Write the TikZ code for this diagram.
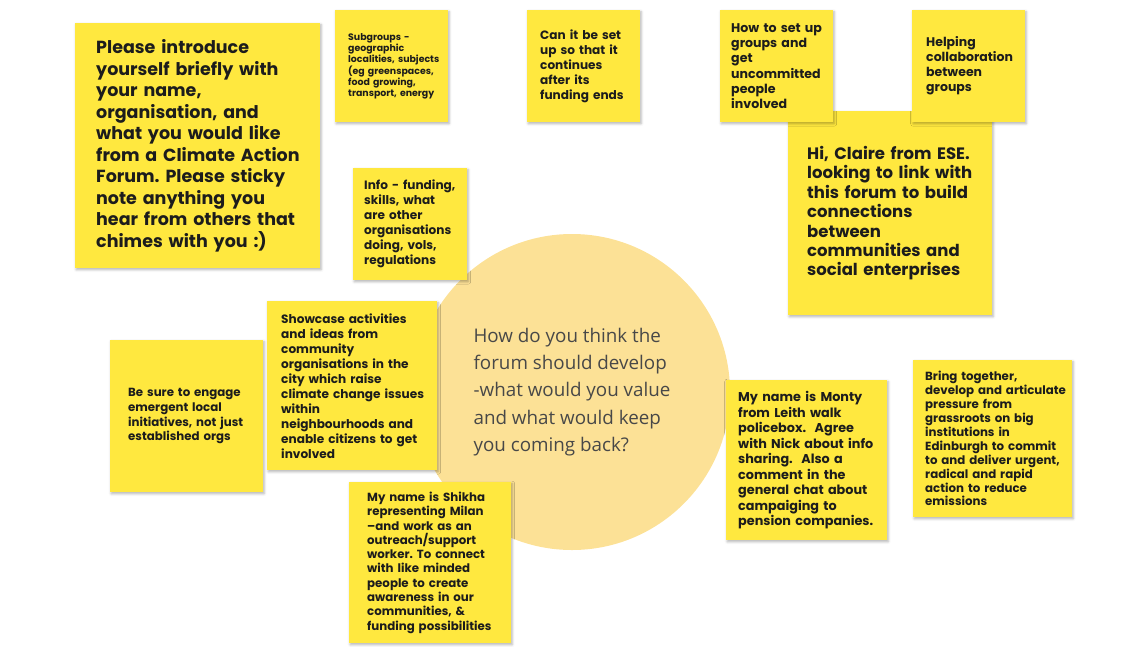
\documentclass[tikz,border=0pt]{standalone}
\usepackage{fontspec}
\setmainfont{Poppins}
\newfontfamily\questionfont{Open Sans}
\usepackage{tikz}
\usetikzlibrary{shadows.blur, positioning}

\definecolor{stickyyellow}{HTML}{FFE83F}
\definecolor{bubble}{HTML}{FCE196}
\definecolor{ink}{HTML}{1C1C1C}
\definecolor{questiongrey}{HTML}{484848}

\frenchspacing
\tikzset{
  note/.style={fill=stickyyellow, anchor=north west, align=left, text=ink,
    inner ysep=0pt,
    blur shadow={shadow xshift=1pt, shadow yshift=-1.5pt, shadow blur radius=2.5pt, shadow opacity=30},
    execute at begin node={\rightskip=0pt plus 1fil minus 1000pt}},
  bubble/.style={circle, fill=bubble, inner sep=0pt, align=left, text=questiongrey}
}

\begin{document}
\begin{tikzpicture}[x=1pt, y=-1pt]
\useasboundingbox (0,0) rectangle (1137,646);

% Question in the middle
\node[bubble, minimum size=316pt, font=\questionfont\fontsize{18.8}{27.3}\selectfont] (question) at (572,392)
  {How do you think the\\forum should develop\\-what would you value\\and what would keep\\you coming back?};

% Top row
\node[note, minimum height=245pt, text width=203pt, inner xsep=21pt, font=\bfseries\fontsize{17.5}{21.5}\selectfont] (intro) at (75,23)
  {Please introduce\\yourself briefly with\\your name,\\organisation, and\\what you would like\\from a Climate Action\\Forum. Please sticky\\note anything you\\hear from others that\\chimes with you :)};
\node[note, minimum height=112pt, text width=87pt, inner xsep=13pt, font=\bfseries\fontsize{9.4}{10.8}\selectfont] (subgroups) at (335,10)
  {Subgroups -\\geographic\\localities, subjects\\(eg greenspaces,\\food growing,\\transport, energy};
\node[note, minimum height=112pt, text width=87pt, inner xsep=13pt, font=\bfseries\fontsize{12.1}{15}\selectfont] (funding) at (527,10)
  {Can it be set\\up so that it\\continues\\after its\\funding ends};
\node[note, minimum height=204pt, text width=166pt, inner xsep=19pt, font=\bfseries\fontsize{16.5}{19.4}\selectfont] (claire) at (788,111)
  {Hi, Claire from ESE.\\looking to link with\\this forum to build\\connections\\between\\communities and\\social enterprises};
\node[note, minimum height=112pt, text width=91pt, inner xsep=11pt, font=\bfseries\fontsize{12.6}{15.2}\selectfont] (setup) at (720,10)
  {How to set up\\groups and\\get\\uncommitted\\people\\involved};
\node[note, minimum height=112pt, text width=85pt, inner xsep=14pt, font=\bfseries\fontsize{12.5}{15}\selectfont] (collab) at (912,10)
  {Helping\\collaboration\\between\\groups};

% Left side
\node[note, minimum height=112pt, text width=92pt, inner xsep=11pt, font=\bfseries\fontsize{12.1}{15}\selectfont] (info) at (353,168)
  {Info - funding,\\skills, what\\are other\\organisations\\doing, vols,\\regulations};
\node[note, minimum height=169pt, text width=142pt, inner xsep=14pt, font=\bfseries\fontsize{12.1}{15}\selectfont] (showcase) at (267,301)
  {Showcase activities\\and ideas from\\community\\organisations in the\\city which raise\\climate change issues\\within\\neighbourhoods and\\enable citizens to get\\involved};
\node[note, minimum height=152pt, text width=117pt, inner xsep=18pt, font=\bfseries\fontsize{11.8}{14.7}\selectfont] (emergent) at (110,340)
  {Be sure to engage\\emergent local\\initiatives, not just\\established orgs};
\node[note, minimum height=161pt, text width=126pt, inner xsep=18pt, font=\bfseries\fontsize{11.8}{14.3}\selectfont] (shikha) at (349,482)
  {My name is Shikha\\representing Milan\\--and work as an\\outreach/support\\worker. To connect\\with like minded\\people to create\\awareness in our\\communities, \&\\funding possibilities};

% Right side
\node[note, minimum height=160pt, text width=137pt, inner xsep=12pt, font=\bfseries\fontsize{12.8}{15.5}\selectfont] (monty) at (726,380)
  {My name is Monty\\from Leith walk\\policebox.\ \ Agree\\with Nick about info\\sharing.\ \ Also a\\comment in the\\general chat about\\campaiging to\\pension companies.};
\node[note, minimum height=157pt, text width=135pt, inner xsep=12pt, font=\bfseries\fontsize{11.8}{13.9}\selectfont] (pressure) at (913,360)
  {Bring together,\\develop and articulate\\pressure from\\grassroots on big\\institutions in\\Edinburgh to commit\\to and deliver urgent,\\radical and rapid\\action to reduce\\emissions};
\end{tikzpicture}
\end{document}
